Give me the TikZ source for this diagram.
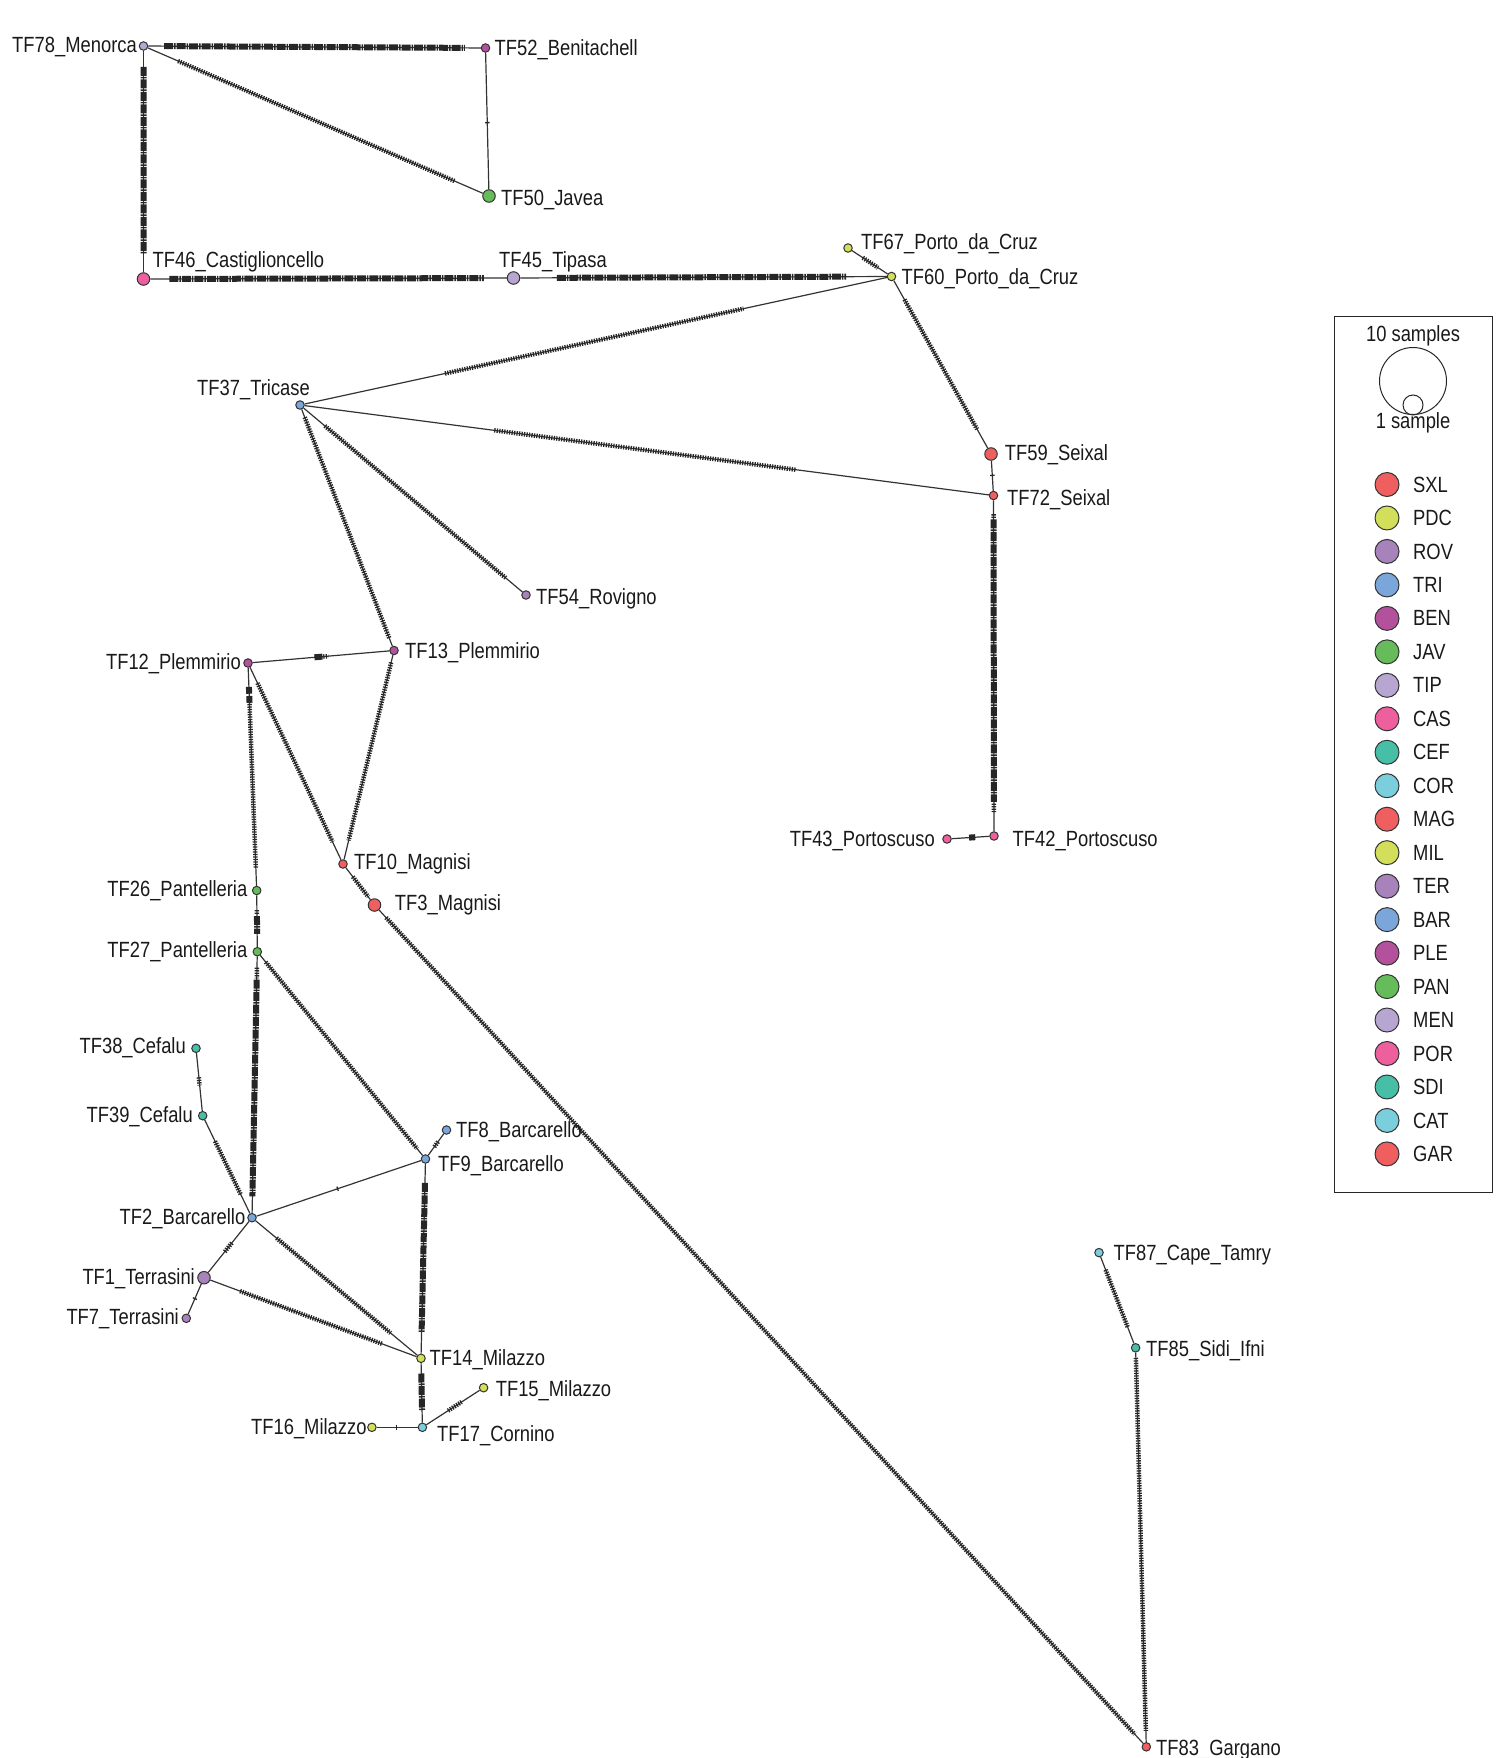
\documentclass[tikz,border=0pt]{standalone}
\usepackage{fontspec}
\newfontfamily\lblfont[FakeStretch=0.835]{Liberation Sans}
\usetikzlibrary{calc}
\pgfdeclarelayer{bg}
\pgfsetlayers{bg,main}
\definecolor{cRed}{HTML}{EF5F5F}
\definecolor{cYel}{HTML}{D3DE5B}
\definecolor{cPur}{HTML}{A882BA}
\definecolor{cBlu}{HTML}{7AA6DA}
\definecolor{cMag}{HTML}{B4519D}
\definecolor{cGrn}{HTML}{66BB5B}
\definecolor{cLav}{HTML}{B7A6D1}
\definecolor{cPnk}{HTML}{EE5F9E}
\definecolor{cTea}{HTML}{47BFA7}
\definecolor{cCya}{HTML}{7BCFDC}
\newcommand\seg[5]{\draw[#1] ($(#2)!#4!(#3)$) -- ($(#2)!#5!(#3)$);}
\tikzset{
  hap/.style={circle, draw=black!80, line width=1pt, inner sep=0pt, minimum size=8.5pt},
  big/.style={minimum size=12.5pt},
  lbl/.style={font=\lblfont\fontsize{22}{26}\selectfont, inner sep=0pt, text=black!90},
  edge/.style={draw=black!80, line width=1.2pt},
  ticks/.style={draw=black!85, line width=4.5pt, dash pattern=on 1.3pt off 1.2pt},
  heavy/.style={draw=black!85, line width=6pt, dash pattern=on 9pt off 1pt on 1.5pt off 1pt},
  legc/.style={circle, draw=black!80, line width=1pt, inner sep=0pt, minimum size=24pt},
}
\begin{document}
\begin{tikzpicture}[x=1pt,y=-1pt]
\useasboundingbox (0,0) rectangle (1507,1758);
% haplotype nodes
\node[hap, fill=cLav] (TF78) at (143.5,46) {};
\node[hap, fill=cMag] (TF52) at (485.5,48) {};
\node[hap, big, fill=cGrn] (TF50) at (489,196) {};
\node[hap, big, fill=cPnk] (TF46) at (143.5,279) {};
\node[hap, big, fill=cLav] (TF45) at (513.5,278) {};
\node[hap, fill=cYel] (TF67) at (848,248) {};
\node[hap, fill=cYel] (TF60) at (891.5,276.5) {};
\node[hap, fill=cBlu] (TF37) at (300,405) {};
\node[hap, big, fill=cRed] (TF59) at (991,454) {};
\node[hap, fill=cRed] (TF72) at (993.5,495.5) {};
\node[hap, fill=cPur] (TF54) at (526,595) {};
\node[hap, fill=cMag] (TF12) at (248,663) {};
\node[hap, fill=cMag] (TF13) at (394,650.5) {};
\node[hap, fill=cPnk] (TF43) at (947,839) {};
\node[hap, fill=cPnk] (TF42) at (994,836) {};
\node[hap, fill=cRed] (TF10) at (343,864) {};
\node[hap, big, fill=cRed] (TF3) at (374.5,905) {};
\node[hap, fill=cGrn] (TF26) at (256.7,890.5) {};
\node[hap, fill=cGrn] (TF27) at (257.3,951.7) {};
\node[hap, fill=cTea] (TF38) at (196,1048.3) {};
\node[hap, fill=cTea] (TF39) at (202.7,1115.7) {};
\node[hap, fill=cBlu] (TF8) at (446.5,1130) {};
\node[hap, fill=cBlu] (TF9) at (425.5,1159) {};
\node[hap, fill=cBlu] (TF2) at (252,1217.7) {};
\node[hap, big, fill=cPur] (TF1) at (204,1277.7) {};
\node[hap, fill=cPur] (TF7) at (186.3,1318.3) {};
\node[hap, fill=cYel] (TF14) at (421,1358.3) {};
\node[hap, fill=cYel] (TF15) at (483.6,1387.7) {};
\node[hap, fill=cYel] (TF16) at (371.9,1427.3) {};
\node[hap, fill=cCya] (TF17) at (422.4,1427.3) {};
\node[hap, fill=cCya] (TF87) at (1099,1252.6) {};
\node[hap, fill=cTea] (TF85) at (1135.6,1347.8) {};
\node[hap, fill=cRed] (TF83) at (1146.3,1746.8) {};
% labels
\node[lbl, anchor=base east] (l78) at (137,53) {TF78\_Menorca};
\node[lbl, anchor=base west] (l52) at (494.5,56) {TF52\_Benitachell};
\node[lbl, anchor=base west] (l50) at (501,205) {TF50\_Javea};
\node[lbl, anchor=base west] (l46) at (152.5,267) {TF46\_Castiglioncello};
\node[lbl, anchor=base west] (l45) at (499,267) {TF45\_Tipasa};
\node[lbl, anchor=base west] (l67) at (861,249) {TF67\_Porto\_da\_Cruz};
\node[lbl, anchor=base west] (l60) at (901.5,284) {TF60\_Porto\_da\_Cruz};
\node[lbl, anchor=base west] (l37) at (197,395) {TF37\_Tricase};
\node[lbl, anchor=base west] (l59) at (1004.7,460) {TF59\_Seixal};
\node[lbl, anchor=base west] (l72) at (1007,505) {TF72\_Seixal};
\node[lbl, anchor=base west] (l54) at (536,604) {TF54\_Rovigno};
\node[lbl, anchor=base west] (l13) at (405,658) {TF13\_Plemmirio};
\node[lbl, anchor=base east] (l12) at (241,669.5) {TF12\_Plemmirio};
\node[lbl, anchor=base east] (l43) at (935,846.5) {TF43\_Portoscuso};
\node[lbl, anchor=base west] (l42) at (1012.5,846.5) {TF42\_Portoscuso};
\node[lbl, anchor=base west] (l10) at (354,869) {TF10\_Magnisi};
\node[lbl, anchor=base west] (l3) at (394.7,910.6) {TF3\_Magnisi};
\node[lbl, anchor=base east] (l26) at (247.5,896) {TF26\_Pantelleria};
\node[lbl, anchor=base east] (l27) at (247.5,957) {TF27\_Pantelleria};
\node[lbl, anchor=base east] (l38) at (186,1053.5) {TF38\_Cefalu};
\node[lbl, anchor=base east] (l39) at (193,1122.5) {TF39\_Cefalu};
\node[lbl, anchor=base west] (l8) at (456,1137) {TF8\_Barcarello};
\node[lbl, anchor=base west] (l9) at (438,1171) {TF9\_Barcarello};
\node[lbl, anchor=base east] (l2) at (245.5,1224.6) {TF2\_Barcarello};
\node[lbl, anchor=base east] (l1) at (195,1284) {TF1\_Terrasini};
\node[lbl, anchor=base east] (l7) at (179,1324) {TF7\_Terrasini};
\node[lbl, anchor=base west] (l14) at (429.5,1365) {TF14\_Milazzo};
\node[lbl, anchor=base west] (l15) at (495.6,1396) {TF15\_Milazzo};
\node[lbl, anchor=base east] (l16) at (366.7,1434) {TF16\_Milazzo};
\node[lbl, anchor=base west] (l17) at (437,1441) {TF17\_Cornino};
\node[lbl, anchor=base west] (l87) at (1113.5,1260.5) {TF87\_Cape\_Tamry};
\node[lbl, anchor=base west] (l85) at (1146,1356) {TF85\_Sidi\_Ifni};
\node[lbl, anchor=base west] (l83) at (1156,1755) {TF83\_Gargano};
% edges
\begin{pgfonlayer}{bg}
\draw[edge] (TF78) -- (TF52);
\draw[edge] (TF78) -- (TF46);
\draw[edge] (TF78) -- (TF50);
\draw[edge] (TF52) -- (TF50);
\draw[edge] (TF46) -- (TF45);
\draw[edge] (TF45) -- (TF60);
\draw[edge] (TF67) -- (TF60);
\draw[edge] (TF37) -- (TF60);
\draw[edge] (TF60) -- (TF59);
\draw[edge] (TF59) -- (TF72);
\draw[edge] (TF37) -- (TF72);
\draw[edge] (TF72) -- (TF42);
\draw[edge] (TF43) -- (TF42);
\draw[edge] (TF37) -- (TF54);
\draw[edge] (TF37) -- (TF13);
\draw[edge] (TF12) -- (TF13);
\draw[edge] (TF12) -- (TF26);
\draw[edge] (TF12) -- (TF10);
\draw[edge] (TF13) -- (TF10);
\draw[edge] (TF10) -- (TF3);
\draw[edge] (TF3) -- (TF83);
\draw[edge] (TF26) -- (TF27);
\draw[edge] (TF27) -- (TF2);
\draw[edge] (TF27) -- (TF9);
\draw[edge] (TF38) -- (TF39);
\draw[edge] (TF39) -- (TF2);
\draw[edge] (TF9) -- (TF8);
\draw[edge] (TF2) -- (TF9);
\draw[edge] (TF9) -- (TF14);
\draw[edge] (TF2) -- (TF1);
\draw[edge] (TF1) -- (TF7);
\draw[edge] (TF2) -- (TF14);
\draw[edge] (TF1) -- (TF14);
\draw[edge] (TF14) -- (TF17);
\draw[edge] (TF17) -- (TF15);
\draw[edge] (TF16) -- (TF17);
\draw[edge] (TF87) -- (TF85);
\draw[edge] (TF85) -- (TF83);
% mutation marks
\seg{heavy}{TF78}{TF52}{0.06}{0.94}
\seg{heavy}{TF78}{TF46}{0.09}{0.89}
\seg{ticks}{TF78}{TF50}{0.10}{0.90}
\seg{ticks}{TF52}{TF50}{0.5}{0.509}
\seg{heavy}{TF46}{TF45}{0.07}{0.92}
\seg{heavy}{TF45}{TF60}{0.115}{0.88}
\seg{ticks}{TF67}{TF60}{0.34}{0.69}
\seg{ticks}{TF37}{TF60}{0.245}{0.75}
\seg{ticks}{TF60}{TF59}{0.13}{0.86}
\seg{ticks}{TF59}{TF72}{0.5}{0.532}
\seg{ticks}{TF37}{TF72}{0.28}{0.715}
\seg{ticks}{TF72}{TF42}{0.055}{0.066}
\seg{heavy}{TF72}{TF42}{0.07}{0.9}
\seg{ticks}{TF72}{TF42}{0.905}{0.93}
\seg{heavy}{TF43}{TF42}{0.47}{0.6}
\seg{ticks}{TF37}{TF54}{0.11}{0.91}
\seg{ticks}{TF37}{TF13}{0.05}{0.95}
\seg{heavy}{TF12}{TF13}{0.455}{0.51}
\seg{ticks}{TF12}{TF13}{0.515}{0.55}
\seg{heavy}{TF12}{TF26}{0.105}{0.135}
\seg{heavy}{TF12}{TF26}{0.145}{0.175}
\seg{ticks}{TF12}{TF26}{0.18}{0.90}
\seg{ticks}{TF12}{TF10}{0.10}{0.89}
\seg{ticks}{TF13}{TF10}{0.056}{0.89}
\seg{ticks}{TF10}{TF3}{0.31}{0.80}
\seg{ticks}{TF3}{TF83}{0.015}{0.985}
\seg{ticks}{TF26}{TF27}{0.32}{0.40}
\seg{heavy}{TF26}{TF27}{0.42}{0.71}
\seg{ticks}{TF27}{TF2}{0.06}{0.10}
\seg{heavy}{TF27}{TF2}{0.105}{0.92}
\seg{ticks}{TF27}{TF9}{0.05}{0.95}
\seg{ticks}{TF38}{TF39}{0.43}{0.55}
\seg{ticks}{TF39}{TF2}{0.25}{0.77}
\seg{ticks}{TF9}{TF8}{0.42}{0.60}
\seg{ticks}{TF2}{TF9}{0.49}{0.497}
\seg{heavy}{TF9}{TF14}{0.12}{0.87}
\seg{ticks}{TF2}{TF1}{0.42}{0.57}
\seg{ticks}{TF1}{TF7}{0.5}{0.53}
\seg{ticks}{TF2}{TF14}{0.145}{0.82}
\seg{ticks}{TF1}{TF14}{0.166}{0.82}
\seg{heavy}{TF14}{TF17}{0.22}{0.76}
\seg{ticks}{TF17}{TF15}{0.42}{0.64}
\seg{ticks}{TF16}{TF17}{0.47}{0.495}
\seg{ticks}{TF87}{TF85}{0.18}{0.79}
\seg{ticks}{TF85}{TF83}{0.025}{0.96}
\end{pgfonlayer}
% legend
\node[draw=black!85, line width=1pt, minimum width=158pt, minimum height=876pt, inner sep=0pt, anchor=north west] (legend) at (1334,316) {};
\node[lbl] (s10) at (1413,336) {10 samples};
\node[circle, draw=black!85, line width=1pt, minimum size=67pt, inner sep=0pt] (bigc) at (1413,381) {};
\node[circle, draw=black!85, line width=1pt, minimum size=20pt, inner sep=0pt] (smc) at (1413,405) {};
\node[lbl] (s1) at (1413,423) {1 sample};
\foreach \c/\t [count=\i from 0] in {cRed/SXL,cYel/PDC,cPur/ROV,cBlu/TRI,cMag/BEN,cGrn/JAV,cLav/TIP,cPnk/CAS,cTea/CEF,cCya/COR,cRed/MAG,cYel/MIL,cPur/TER,cBlu/BAR,cMag/PLE,cGrn/PAN,cLav/MEN,cPnk/POR,cTea/SDI,cCya/CAT,cRed/GAR}{
  \node[legc, fill=\c] (lc\i) at (1387,{484.5+33.47*\i}) {};
  \node[lbl, anchor=west] (lt\i) at (1413,{484.5+33.47*\i}) {\t};
}
\end{tikzpicture}
\end{document}
